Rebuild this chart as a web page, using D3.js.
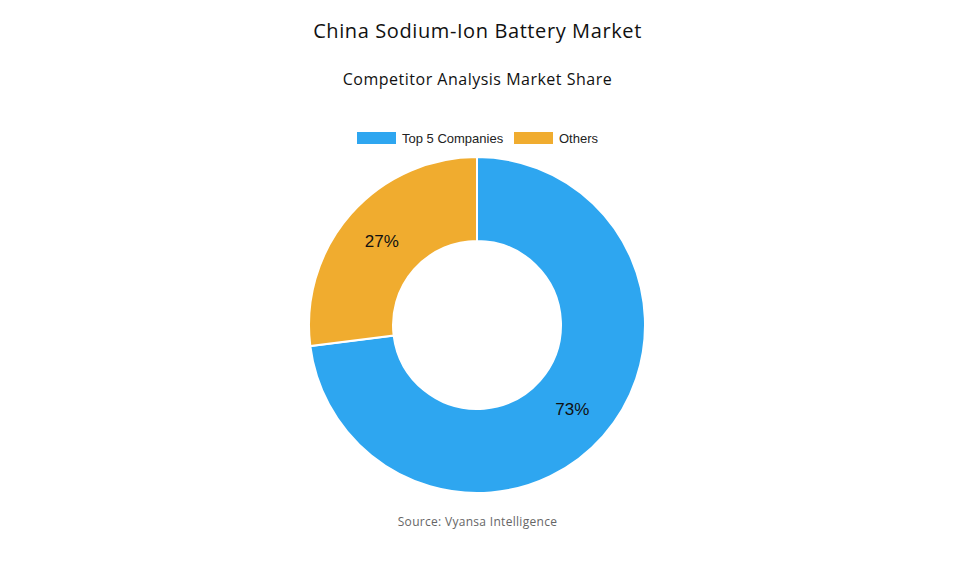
<!DOCTYPE html>
<html><head><meta charset="utf-8">
<script src="https://cdn.jsdelivr.net/npm/d3@7"></script>
<style>body{margin:0;background:#fff}</style>
</head><body>
<script>
var categories = ["Top 5 Companies", "Others"];
var shares = [73, 27];
var colors = ["#2EA6F0", "#F0AC2F"];

var width = 955, height = 573;
var cx = 477, cy = 325, outer = 168, inner = 84;

var svg = d3.select("body").append("svg")
  .attr("width", width).attr("height", height);

svg.append("text").attr("x", width / 2).attr("y", 38)
  .attr("text-anchor", "middle").attr("font-family", "'Open Sans', sans-serif")
  .attr("font-size", 20).attr("letter-spacing", 0.6).attr("fill", "#111").text("China Sodium-Ion Battery Market");
svg.append("text").attr("x", width / 2).attr("y", 85)
  .attr("text-anchor", "middle").attr("font-family", "'Open Sans', sans-serif")
  .attr("font-size", 16).attr("letter-spacing", 0.5).attr("fill", "#111").text("Competitor Analysis Market Share");

// legend
var legendX = [357, 514];
var lg = svg.selectAll(".leg").data(categories).enter().append("g")
  .attr("transform", function(d, i) { return "translate(" + legendX[i] + ",132)"; });
lg.append("rect").attr("width", 39).attr("height", 12).attr("fill", function(d, i) { return colors[i]; });
lg.append("text").attr("x", 45).attr("y", 11).attr("font-family", "'Liberation Sans', Arial, sans-serif")
  .attr("font-size", 13).attr("fill", "#222").text(function(d) { return d; });

var pie = d3.pie().sort(null).value(function(d) { return d; });
var arc = d3.arc().innerRadius(inner).outerRadius(outer);
var labelArc = d3.arc().innerRadius(127).outerRadius(127);

var g = svg.append("g").attr("transform", "translate(" + cx + "," + cy + ")");
var arcs = pie(shares);
g.selectAll("path").data(arcs).enter().append("path")
  .attr("d", arc).attr("fill", function(d, i) { return colors[i]; })
  .attr("stroke", "#fff").attr("stroke-width", 2);
g.selectAll(".lbl").data(arcs).enter().append("text")
  .attr("transform", function(d) { return "translate(" + labelArc.centroid(d) + ")"; })
  .attr("text-anchor", "middle").attr("dy", "0.35em")
  .attr("font-family", "'Liberation Sans', Arial, sans-serif").attr("font-size", 17).attr("fill", "#111")
  .text(function(d) { return d.data + "%"; });

svg.append("text").attr("x", width / 2).attr("y", 526)
  .attr("text-anchor", "middle").attr("font-family", "'Open Sans', sans-serif")
  .attr("font-size", 12).attr("letter-spacing", 0.3).attr("fill", "#666").text("Source: Vyansa Intelligence");
</script>
</body></html>
